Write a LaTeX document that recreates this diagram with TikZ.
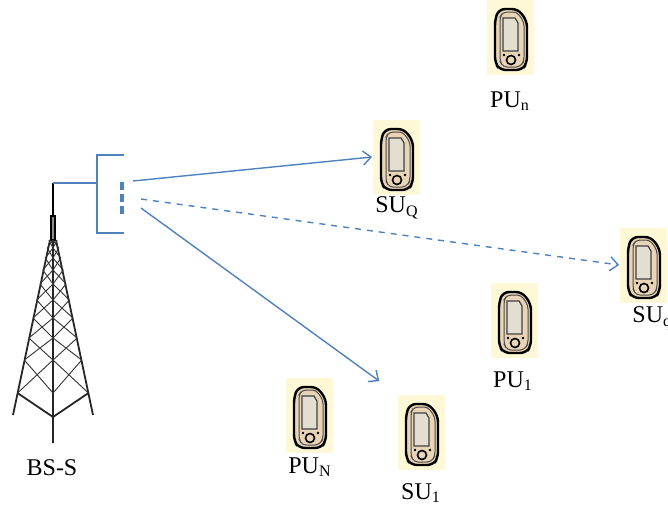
\documentclass[tikz,border=0pt]{standalone}
\usepackage{fontspec}
\setmainfont{Liberation Serif}
\usetikzlibrary{arrows.meta}
\definecolor{linkblue}{RGB}{79,129,189}
\definecolor{padcream}{RGB}{255,248,214}
\definecolor{bodytan}{RGB}{232,212,182}
\definecolor{screengray}{RGB}{228,222,208}

\begin{document}
\begin{tikzpicture}[x=0.5pt,y=-0.5pt,font=\fontsize{12}{14}\selectfont]
  \tikzset{
    pad/.style={fill=padcream,minimum width=23.5pt,minimum height=37.5pt,
      inner sep=0pt},
    tag/.style={inner sep=0pt},
    link/.style={draw=linkblue,line width=0.7pt,
      -{Straight Barb[length=4pt,width=7pt]}},
    leg/.style={line width=0.9pt,black!85},
    lattice/.style={line width=0.45pt,black!80},
    feed/.style={draw=linkblue,line width=0.7pt},
    phone/.pic={
      \draw[line width=1.2pt,fill=bodytan,rounded corners=3pt]
        (-15,-18) -- (-11,-28) -- (8,-28) -- (17,-16) -- (17,26)
        -- (12,33) -- (-10,33) -- (-15,26) -- cycle;
      \draw[line width=0.5pt,black!70,rounded corners=2pt]
        (-10,-20) -- (-7,-25) -- (7,-25) -- (14,-15) -- (14,24)
        -- (10,30) -- (-7,30) -- (-10,24) -- cycle;
      \draw[line width=0.6pt,black!75,fill=screengray]
        (-7,-19) -- (5,-19) -- (8,-14) -- (8,14) -- (-7,14) -- cycle;
      \draw[line width=0.8pt,fill=bodytan] (1,23) circle (4.5);
      \fill (-6,18) circle (1.4) (9,18) circle (1.4);
    }
  }
  \useasboundingbox (0,0) rectangle (668,516);

  % base station tower
  \draw[line width=0.6pt] (53,183) -- (53,216);
  \draw[line width=0.6pt,fill=black!45] (51,216) rectangle (55,240);
  \draw[leg] (50,240) -- (13,415);
  \draw[leg] (56,240) -- (93,415);
  \draw[leg] (53,240) -- (53,443);
  \foreach \ya/\yb in {240/248,248/258,258/270,270/284,284/300,
                       300/318,318/338,338/360,360/393}{
    \draw[lattice] ({49-0.2057*(\ya-240)},\ya) -- (53,\yb);
    \draw[lattice] (53,\ya) -- ({49-0.2057*(\yb-240)},\yb);
    \draw[lattice] ({57+0.2057*(\ya-240)},\ya) -- (53,\yb);
    \draw[lattice] (53,\ya) -- ({57+0.2057*(\yb-240)},\yb);
  }
  \draw[leg] (17.5,393) -- (53,417) -- (88.5,393);
  \node[tag] (bss) at (52,468) {BS-S};

  % antenna feed and array
  \draw[feed] (53,183) -- (97,183);
  \draw[feed] (124,155) -- (97,155) -- (97,233) -- (124,233);
  \draw[draw=linkblue,line width=1.6pt,dash pattern=on 4pt off 2pt]
    (122,182) -- (122,215);
  \coordinate (beamQ) at (133,181);
  \coordinate (beamq) at (141,199);
  \coordinate (beam1) at (141,208);

  % users
  \node[pad] (puN) at (510,37) {};
  \pic at (puN) {phone};
  \node[tag] (puNtag) at (510,101) {PU\textsubscript{n}};

  \node[pad] (suQ) at (396,157) {};
  \pic at (suQ) {phone};
  \node[tag] (suQtag) at (397,208) {SU\textsubscript{Q}};

  \node[pad] (suq) at (643,265) {};
  \pic at (suq) {phone};
  \node[tag,anchor=west] (suqtag) at (632,318) {SU\textsubscript{q}};

  \node[pad] (pu1) at (514,320) {};
  \pic at (pu1) {phone};
  \node[tag] (pu1tag) at (513,381) {PU\textsubscript{1}};

  \node[pad] (puL) at (309,415) {};
  \pic at (puL) {phone};
  \node[tag] (puLtag) at (310,467) {PU\textsubscript{N}};

  \node[pad] (su1) at (421,432) {};
  \pic at (su1) {phone};
  \node[tag] (su1tag) at (421,493) {SU\textsubscript{1}};

  % beams
  \draw[link] (beamQ) -- (suQ.west);
  \draw[link,dashed] (beamq) -- (suq.west);
  \draw[link,shorten >=11pt] (beam1) -- (su1.north west);
\end{tikzpicture}
\end{document}
